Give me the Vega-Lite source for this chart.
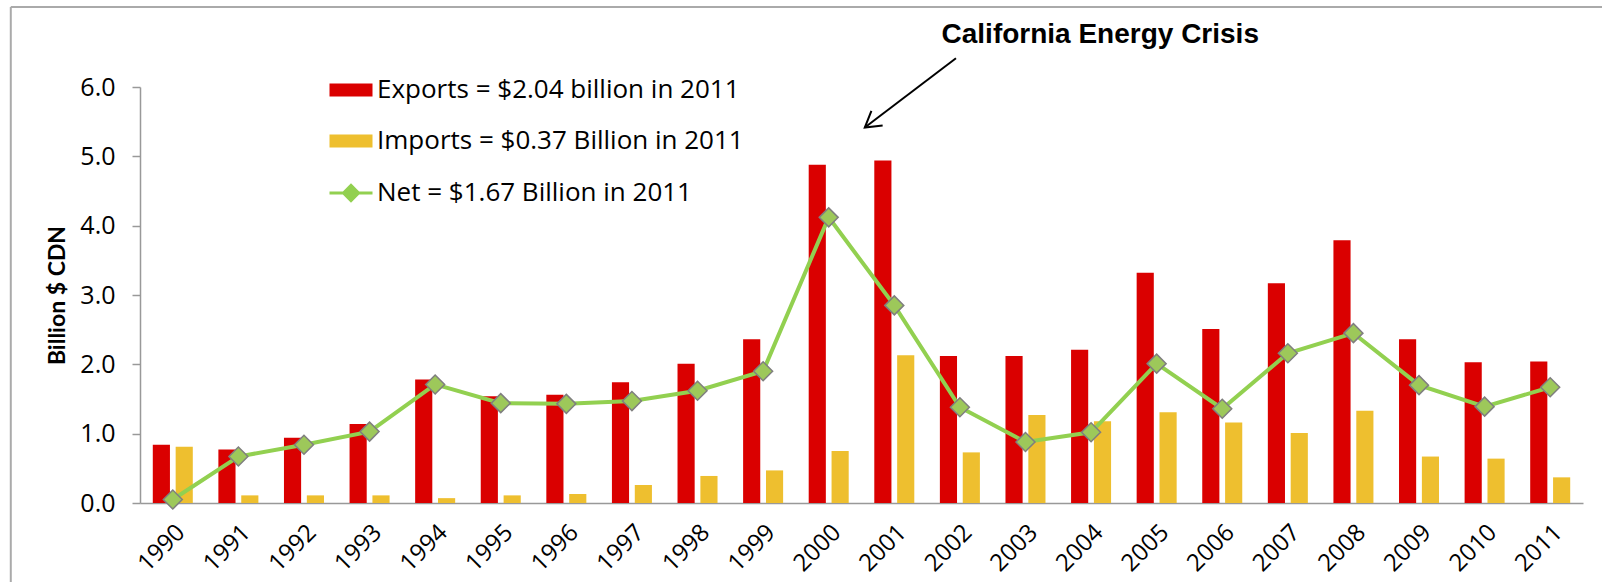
{
  "$schema": "https://vega.github.io/schema/vega-lite/v6.json",
  "width": 1443,
  "height": 416,
  "autosize": {"type": "none"},
  "padding": {"left": 140, "top": 87, "right": 19, "bottom": 79},
  "background": "white",
  "config": {"font": "Open Sans", "view": {"stroke": null}},
  "datasets": {
    "trade": [
      {"year": "1990", "Exports": 0.84, "Imports": 0.81, "Net": 0.05},
      {"year": "1991", "Exports": 0.77, "Imports": 0.11, "Net": 0.67},
      {"year": "1992", "Exports": 0.94, "Imports": 0.11, "Net": 0.84},
      {"year": "1993", "Exports": 1.14, "Imports": 0.11, "Net": 1.03},
      {"year": "1994", "Exports": 1.78, "Imports": 0.07, "Net": 1.71},
      {"year": "1995", "Exports": 1.54, "Imports": 0.11, "Net": 1.44},
      {"year": "1996", "Exports": 1.56, "Imports": 0.13, "Net": 1.43},
      {"year": "1997", "Exports": 1.74, "Imports": 0.26, "Net": 1.47},
      {"year": "1998", "Exports": 2.01, "Imports": 0.39, "Net": 1.62},
      {"year": "1999", "Exports": 2.36, "Imports": 0.47, "Net": 1.90},
      {"year": "2000", "Exports": 4.88, "Imports": 0.75, "Net": 4.12},
      {"year": "2001", "Exports": 4.94, "Imports": 2.13, "Net": 2.85},
      {"year": "2002", "Exports": 2.12, "Imports": 0.73, "Net": 1.38},
      {"year": "2003", "Exports": 2.12, "Imports": 1.27, "Net": 0.88},
      {"year": "2004", "Exports": 2.21, "Imports": 1.18, "Net": 1.02},
      {"year": "2005", "Exports": 3.32, "Imports": 1.31, "Net": 2.01},
      {"year": "2006", "Exports": 2.51, "Imports": 1.16, "Net": 1.36},
      {"year": "2007", "Exports": 3.17, "Imports": 1.01, "Net": 2.16},
      {"year": "2008", "Exports": 3.79, "Imports": 1.33, "Net": 2.45},
      {"year": "2009", "Exports": 2.36, "Imports": 0.67, "Net": 1.70},
      {"year": "2010", "Exports": 2.03, "Imports": 0.64, "Net": 1.39},
      {"year": "2011", "Exports": 2.04, "Imports": 0.37, "Net": 1.67}
    ]
  },
  "layer": [
    {
      "data": {"name": "trade"},
      "transform": [{"fold": ["Exports", "Imports", "Net"], "as": ["series", "value"]}],
      "encoding": {
        "x": {
          "field": "year", "type": "nominal",
          "scale": {"paddingInner": 0.39, "paddingOuter": 0.195},
          "axis": {"title": null, "labelAngle": -45, "labelFontSize": 24, "labelColor": "black", "ticks": false, "domainColor": "#999999", "domainWidth": 1.5, "labelPadding": 17}
        },
        "y": {
          "field": "value", "type": "quantitative",
          "scale": {"domain": [0, 6], "nice": false},
          "axis": {"title": "Billion $ CDN", "titleFont": "Lato", "titleFontWeight": "bold", "titleFontSize": 23, "titleColor": "black", "titlePadding": 10, "values": [0, 1, 2, 3, 4, 5, 6], "format": ".1f", "labelFontSize": 25, "labelColor": "black", "labelPadding": 17, "tickSize": 8, "tickColor": "#999999", "tickWidth": 1.5, "domainColor": "#999999", "domainWidth": 1.5, "grid": false}
        }
      },
      "layer": [
        {
          "transform": [{"filter": "datum.series !== 'Net'"}],
          "mark": {"type": "bar"},
          "encoding": {
            "xOffset": {"field": "series", "scale": {"domain": ["Exports", "Imports"], "paddingInner": 0.25, "paddingOuter": 0}},
            "color": {
              "field": "series", "type": "nominal",
              "scale": {"domain": ["Exports", "Imports", "Net"], "range": ["#DA0000", "#EEBF2F", "#92D050"]},
              "legend": {
                "orient": "none", "legendX": 198, "legendY": -10, "title": null, "padding": 0,
                "symbolSize": 1849, "symbolOffset": 0, "labelOffset": 13, "rowPadding": 25,
                "labelFontSize": 26, "labelColor": "black", "labelLimit": 0,
                "labelExpr": "datum.value === 'Exports' ? 'Exports = $2.04 billion in 2011' : datum.value === 'Imports' ? 'Imports = $0.37 Billion in 2011' : 'Net = $1.67 Billion in 2011'",
                "encode": {
                  "symbols": {
                    "update": {
                      "shape": {"signal": "datum.value === 'Net' ? 'M-1,0H-0.35M0.35,0H1M-0.35,0L0,-0.35L0.35,0L0,0.35Z' : 'M-1,-0.3H1V0.3H-1Z'"},
                      "fill": {"signal": "datum.value === 'Net' ? '#9DC85A' : datum.value === 'Imports' ? '#EEBF2F' : '#DA0000'"},
                      "stroke": {"signal": "datum.value === 'Net' ? '#92D050' : 'transparent'"},
                      "strokeWidth": {"signal": "datum.value === 'Net' ? 3 : 0"},
                      "opacity": {"value": 1},
                      "fillOpacity": {"value": 1}
                    }
                  }
                }
              }
            }
          }
        },
        {
          "transform": [{"filter": "datum.series === 'Net'"}],
          "mark": {"type": "line", "strokeWidth": 4},
          "encoding": {"color": {"field": "series", "type": "nominal"}}
        },
        {
          "transform": [{"filter": "datum.series === 'Net'"}],
          "mark": {"type": "point", "shape": "diamond", "size": 360, "filled": true, "fill": "#9DC85A", "stroke": "#7F7F7F", "strokeWidth": 1.5, "opacity": 1}
        }
      ]
    },
    {
      "layer": [
        {
          "data": {"values": [{"year": 2004.14, "value": 6.635, "label": "California Energy Crisis"}]},
          "mark": {"type": "text", "font": "Liberation Sans", "fontWeight": "bold", "fontSize": 28, "color": "black", "align": "center", "baseline": "alphabetic"},
          "encoding": {
            "x": {"field": "year", "type": "quantitative", "scale": {"domain": [1989.5, 2011.5], "nice": false, "zero": false}, "axis": null},
            "y": {"field": "value", "type": "quantitative"},
            "text": {"field": "label"}
          }
        },
        {
          "data": {"values": [{"year": 2001.94, "value": 6.415, "year2": 2000.55, "value2": 5.415}]},
          "mark": {"type": "rule", "strokeWidth": 2, "color": "black"},
          "encoding": {
            "x": {"field": "year", "type": "quantitative", "scale": {"domain": [1989.5, 2011.5], "nice": false, "zero": false}, "axis": null},
            "x2": {"field": "year2"},
            "y": {"field": "value", "type": "quantitative"},
            "y2": {"field": "value2"}
          }
        },
        {
          "data": {"values": [{"year": 2000.55, "value": 5.415}]},
          "mark": {"type": "point", "shape": "M-1,-0.6L0,0L-1,0.6", "angle": 142.6, "size": 950, "filled": false, "color": "black", "stroke": "black", "strokeWidth": 2, "opacity": 1},
          "encoding": {
            "x": {"field": "year", "type": "quantitative", "scale": {"domain": [1989.5, 2011.5], "nice": false, "zero": false}, "axis": null},
            "y": {"field": "value", "type": "quantitative"}
          }
        },
        {
          "data": {"values": [
            {"year": 1987.53, "year2": 2014.5, "value": 7.154, "value2": 7.154},
            {"year": 1987.53, "year2": 1987.53, "value": 7.154, "value2": -1.3}
          ]},
          "mark": {"type": "rule", "strokeWidth": 2, "color": "#AAAAAA"},
          "encoding": {
            "x": {"field": "year", "type": "quantitative", "scale": {"domain": [1989.5, 2011.5], "nice": false, "zero": false}, "axis": null},
            "x2": {"field": "year2"},
            "y": {"field": "value", "type": "quantitative"},
            "y2": {"field": "value2"}
          }
        }
      ]
    }
  ],
  "resolve": {"scale": {"x": "independent"}}
}
